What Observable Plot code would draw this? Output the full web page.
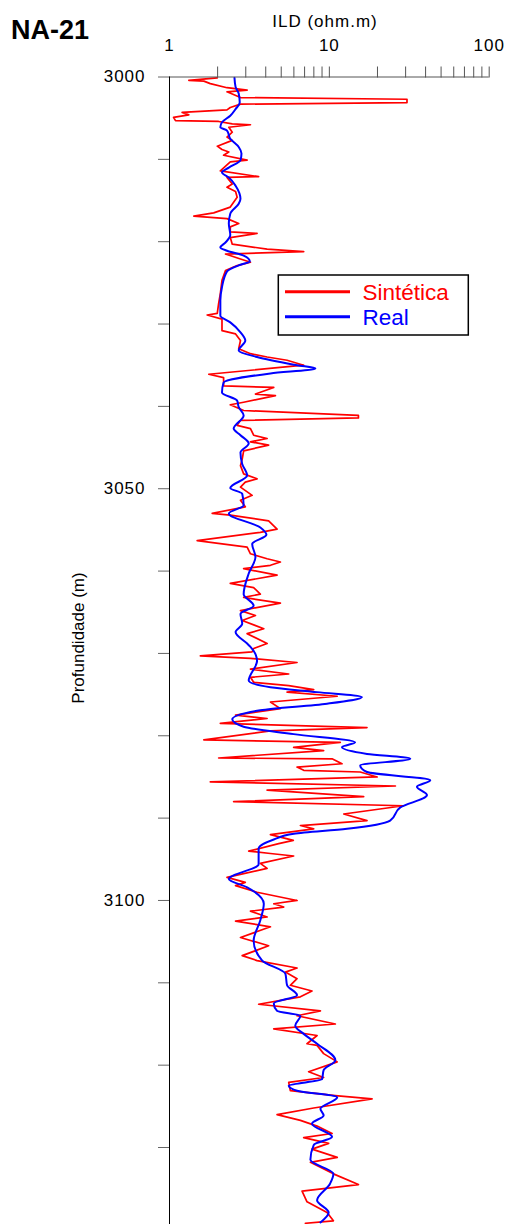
<!DOCTYPE html>
<html><head><meta charset="utf-8">
<script src="https://cdn.jsdelivr.net/npm/d3@7"></script>
<script src="https://cdn.jsdelivr.net/npm/@observablehq/plot@0.6"></script>
<style>
body{margin:0;background:#fff;}
#chart{position:relative;width:508px;height:1224px;overflow:hidden;}
</style></head><body><div id="chart"></div>
<script>
// Sintética (synthetic) ILD log
const synDepth=[3000.1,3000.4,3000.5,3000.8,3001.3,3001.6,3001.8,3002.5,3002.7,3003.1,3003.3,3003.7,3004.0,3004.3,3004.6,3004.9,3005.3,3005.4,3005.7,3005.8,3006.1,3006.7,3007.3,3007.7,3008.4,3008.8,3009.1,3009.5,3010.1,3010.3,3011.4,3012.1,3012.2,3013.0,3013.4,3013.9,3014.6,3015.8,3016.5,3016.9,3017.2,3017.8,3018.2,3018.8,3019.0,3019.5,3020.3,3020.9,3021.2,3021.5,3022.1,3022.5,3022.9,3023.5,3024.7,3026.3,3027.5,3028.7,3028.9,3029.4,3030.8,3031.2,3032.0,3033.0,3033.6,3034.0,3034.4,3035.0,3036.1,3036.5,3037.5,3037.7,3038.5,3038.7,3039.5,3039.8,3040.5,3041.1,3041.4,3041.7,3042.3,3042.7,3043.5,3043.9,3044.3,3044.7,3045.4,3046.4,3047.2,3048.2,3048.8,3049.2,3049.8,3050.8,3051.4,3052.2,3053.0,3053.2,3053.9,3054.9,3055.3,3056.3,3057.1,3057.9,3058.5,3058.9,3059.3,3059.7,3060.5,3061.5,3062.0,3062.8,3063.2,3063.9,3064.8,3065.4,3066.0,3067.0,3067.6,3068.8,3069.4,3069.8,3070.3,3070.6,3071.1,3071.9,3072.5,3072.9,3073.5,3073.9,3074.4,3074.7,3075.2,3075.9,3076.7,3077.5,3077.9,3078.5,3079.0,3079.4,3080.5,3080.8,3081.4,3081.8,3082.7,3082.8,3083.4,3083.8,3084.2,3084.4,3085.0,3085.6,3086.1,3086.6,3087.4,3088.0,3088.5,3089.5,3090.3,3090.9,3091.3,3092.0,3092.7,3093.1,3094.0,3094.3,3094.6,3095.5,3096.1,3097.2,3097.8,3098.2,3099.0,3100.0,3100.4,3100.8,3101.3,3102.0,3102.5,3103.2,3104.5,3105.5,3106.7,3107.3,3108.2,3108.7,3109.5,3110.3,3111.0,3111.7,3112.6,3113.4,3114.0,3115.0,3115.6,3116.4,3117.4,3117.6,3118.6,3119.6,3120.8,3121.5,3122.1,3123.1,3123.7,3124.1,3125.2,3126.0,3126.7,3127.4,3128.3,3128.8,3129.5,3130.2,3131.2,3131.8,3133.2,3134.5,3135.3,3136.6,3137.9,3138.9,3139.2];
const synILD=[1.99,1.32,1.64,1.80,2.29,3.06,2.29,2.78,30.6,30.6,2.78,2.40,2.29,1.20,1.32,1.06,1.09,2.03,2.47,3.21,2.35,2.47,2.29,2.47,1.99,2.13,2.35,2.18,3.06,2.40,2.08,3.61,2.29,2.47,2.29,2.59,2.65,2.40,1.89,1.42,2.29,2.71,2.40,2.40,3.53,2.40,2.47,4.08,6.91,2.24,2.78,3.21,2.65,2.24,2.13,2.08,2.03,1.99,1.72,2.13,2.13,2.59,2.78,2.71,3.21,4.08,5.44,6.91,1.76,2.18,2.18,4.49,3.45,4.60,2.91,2.40,2.91,15.2,15.2,2.78,2.65,3.21,3.36,4.08,3.21,4.17,2.91,2.85,2.78,2.91,3.53,2.98,2.78,3.29,2.78,2.98,1.85,2.40,4.17,4.71,3.70,1.49,3.06,3.21,4.08,4.94,4.28,2.91,4.71,2.40,3.36,3.70,2.91,4.94,2.78,3.45,2.85,3.89,3.06,4.08,3.36,3.29,1.56,3.21,6.28,3.21,5.57,3.21,3.36,5.57,7.98,5.44,11.2,4.28,4.94,2.59,4.08,2.08,17.2,4.28,1.64,11.7,5.98,9.21,2.03,10.4,12.0,6.28,6.91,15.6,19.9,1.80,25.9,4.08,16.4,2.52,29.1,12.3,17.2,6.59,7.98,4.28,5.95,4.82,3.13,4.28,5.98,3.70,4.08,2.29,2.98,2.59,3.53,6.28,4.49,5.18,3.21,4.08,2.59,4.28,2.78,4.17,2.85,3.53,6.28,5.31,6.28,5.70,7.79,6.59,3.61,8.79,6.28,10.9,4.49,8.38,7.25,8.38,9.21,11.2,7.42,9.21,5.57,5.70,10.9,18.5,7.98,4.71,6.59,8.38,10.4,6.91,9.9,7.79,11.2,7.61,10.6,15.2,6.75,7.25,9.68,10.6,7.08];
// Real (measured) ILD log
const realDepth=[3000.1,3001.2,3002.0,3003.1,3003.9,3004.7,3005.5,3006.1,3006.5,3007.5,3008.5,3009.3,3010.1,3011.0,3011.6,3012.2,3013.2,3014.8,3015.4,3016.6,3017.8,3019.2,3020.1,3020.7,3021.1,3021.7,3022.4,3022.8,3023.6,3025.5,3027.1,3029.0,3029.8,3031.0,3032.0,3033.2,3034.0,3035.0,3035.4,3036.0,3037.1,3038.3,3039.3,3040.1,3041.1,3042.7,3043.5,3044.5,3045.6,3047.0,3048.4,3049.9,3050.6,3052.0,3053.0,3054.7,3055.6,3056.7,3058.3,3060.3,3062.8,3064.2,3065.2,3066.4,3067.4,3068.8,3069.2,3070.9,3073.3,3074.1,3074.7,3075.3,3076.1,3076.9,3078.0,3078.9,3079.8,3080.8,3081.4,3082.2,3082.8,3083.6,3084.4,3085.4,3086.2,3087.2,3088.7,3090.3,3091.3,3091.9,3092.6,3093.7,3095.6,3097.4,3098.4,3100.4,3102.4,3104.9,3107.3,3108.9,3110.3,3111.5,3112.5,3113.4,3114.0,3115.2,3116.2,3117.4,3119.4,3120.6,3121.7,3122.5,3123.1,3123.9,3125.3,3126.1,3127.1,3128.7,3129.7,3131.5,3133.2,3134.4,3136.4,3137.9,3139.1];
const realILD=[2.55,2.59,2.71,2.75,2.59,2.40,2.13,2.08,2.29,2.40,2.71,2.82,2.78,2.35,2.13,2.35,2.59,2.78,2.71,2.40,2.35,2.40,2.24,2.08,2.29,2.91,3.18,2.78,2.29,2.13,2.08,2.08,2.40,2.78,2.98,2.71,3.53,6.28,8.18,4.28,2.18,2.13,2.65,2.71,2.91,2.52,2.78,3.13,2.78,2.85,3.06,2.40,2.85,2.91,2.35,3.70,4.04,3.29,3.45,3.13,2.91,3.36,2.78,2.85,2.59,3.06,3.21,3.53,3.13,4.28,8.38,16.0,9.68,3.70,2.47,2.91,5.98,14.5,12.0,17.2,32.1,15.6,17.2,42.8,35.3,40.8,27.8,24.0,12.9,6.0,4.49,3.61,3.61,2.35,3.06,3.89,3.70,3.36,3.80,5.31,5.44,6.28,4.49,4.71,6.59,6.12,6.91,8.38,10.9,9.21,9.0,5.57,6.28,11.2,8.79,9.21,7.79,10.4,7.98,7.61,10.6,10.1,8.38,9.9,8.79];

const seriesNames=["Sintética","Real"];
const seriesColors=["#ff0000","#0000ff"];
const minorTicks=[2,3,4,5,6,7,8,9,10,20,30,40,50,60,70,80,90,100];
const majorTicks=[1,10,100];
const depthTicks=d3.range(3000,3140,10);
const labelDepths=[3000,3050,3100];
const wellName="NA-21";
const xTitle="ILD (ohm.m)";
const yTitle="Profundidade (m)";

const syn=synDepth.map((d,i)=>({depth:d,ild:synILD[i]}));
const real=realDepth.map((d,i)=>({depth:d,ild:realILD[i]}));

const font="'Liberation Sans', Arial, Helvetica, sans-serif";
const plot=Plot.plot({
  width:508,height:1224,marginTop:76.5,marginLeft:169,marginRight:19.3,marginBottom:0,
  style:{fontFamily:font,background:"white",overflow:"visible",color:"black"},
  x:{type:"log",domain:[1,100]},
  y:{domain:[3000,3139.35],reverse:true},
  marks:[
    Plot.line(syn,{x:"ild",y:"depth",stroke:seriesColors[0],strokeWidth:1.7,clip:true}),
    Plot.line(real,{x:"ild",y:"depth",stroke:seriesColors[1],strokeWidth:2,curve:"monotone-y",clip:true}),
    Plot.axisX({anchor:"top",ticks:minorTicks,tickSize:11,tickFormat:()=>"",stroke:"#555",label:null}),
    Plot.axisX({anchor:"top",ticks:majorTicks,tickSize:0,tickPadding:26,tickFormat:d=>String(d),fontSize:17,label:null}),
    Plot.axisY({anchor:"left",ticks:depthTicks,tickSize:11,tickPadding:13,tickFormat:d=>labelDepths.includes(d)?String(d):"",fontSize:17,stroke:"#666",label:null}),
    Plot.ruleY([3000],{stroke:"#555"}),
    Plot.ruleX([1],{stroke:"black"})
  ]
});
const svg=d3.select(plot);
svg.selectAll("[aria-label='y-axis tick label'] text, [aria-label='x-axis tick label'] text").style("letter-spacing","1px");

// title
svg.append("text").attr("x",11).attr("y",39.3).attr("text-anchor","start").attr("font-family",font).attr("font-weight","bold").attr("font-size",27).attr("fill","black").text(wellName);
// x title
svg.append("text").attr("x",325).attr("y",26.7).attr("text-anchor","middle").attr("font-family",font).attr("font-size",17).style("letter-spacing","1px").attr("fill","black").text(xTitle);
// y title
svg.append("text").attr("transform","translate(84,638) rotate(-90)").attr("text-anchor","middle").attr("font-family",font).attr("font-size",17).attr("fill","black").text(yTitle);
// legend
const lg=svg.append("g");
lg.append("rect").attr("x",278.3).attr("y",275).attr("width",190).attr("height",60).attr("fill","white").attr("stroke","black").attr("stroke-width",1.5);
seriesNames.forEach((name,i)=>{
  const yy=291.7+i*25;
  lg.append("line").attr("x1",285).attr("x2",350).attr("y1",yy).attr("y2",yy).attr("stroke",seriesColors[i]).attr("stroke-width",3);
  lg.append("text").attr("x",362.5).attr("y",yy+8.3).attr("text-anchor","start").attr("font-family",font).attr("font-size",22.5).attr("fill",seriesColors[i]).text(name);
});
document.getElementById("chart").appendChild(plot);
</script></body></html>
